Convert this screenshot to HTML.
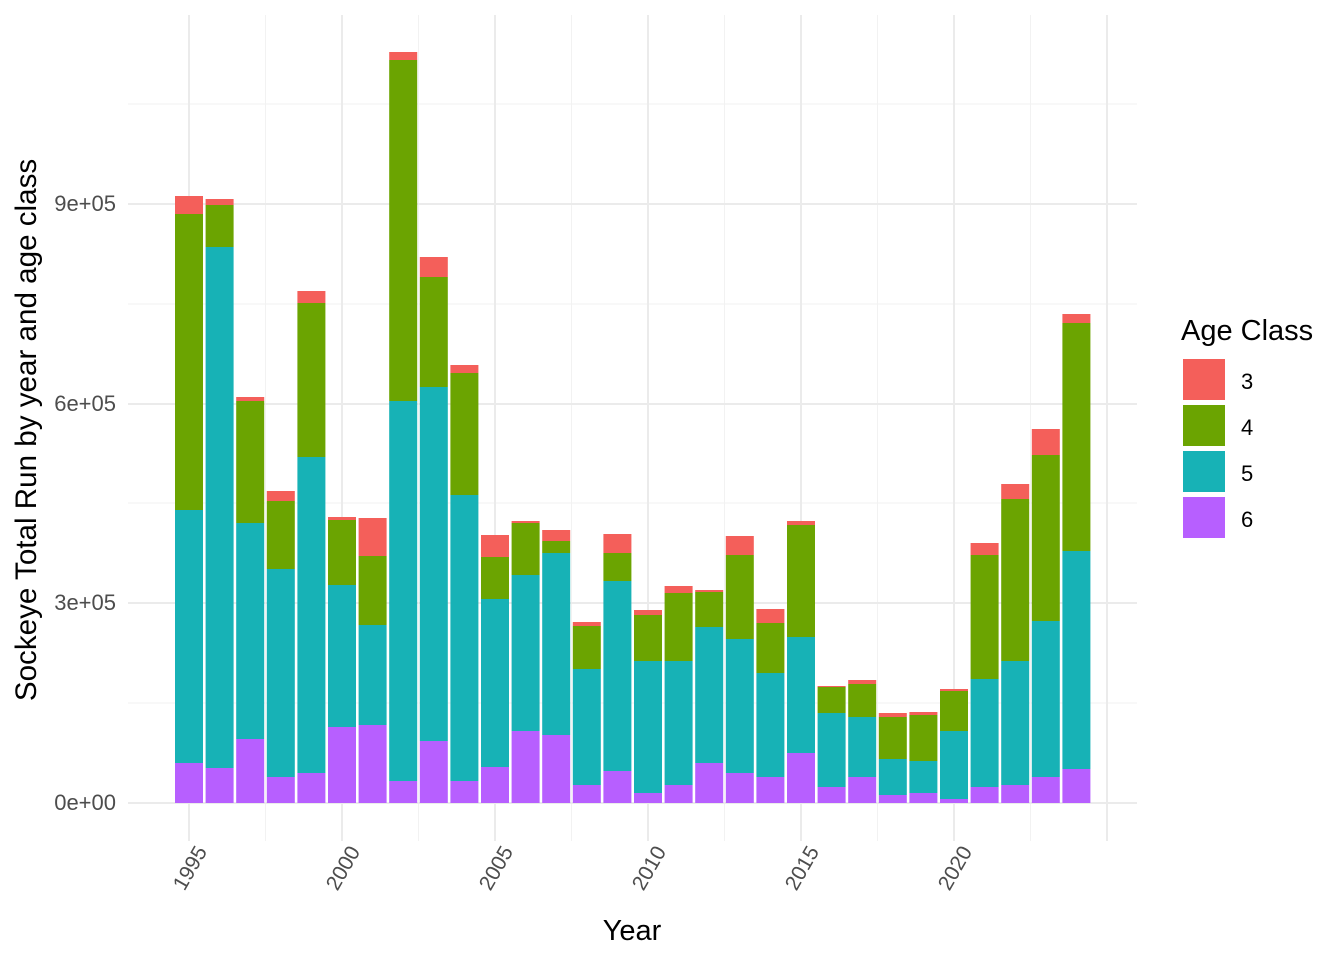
<!DOCTYPE html>
<html><head><meta charset="utf-8"><style>body{margin:0;background:#fff}svg{display:block;font-family:"Liberation Sans",Arial,sans-serif}</style></head><body>
<svg width="1344" height="960" viewBox="0 0 1344 960" xmlns="http://www.w3.org/2000/svg">
<g stroke="#f2f2f2" stroke-width="1">
<line x1="128" x2="1137" y1="703" y2="703"/><line x1="128" x2="1137" y1="503" y2="503"/><line x1="128" x2="1137" y1="304" y2="304"/><line x1="128" x2="1137" y1="104" y2="104"/>
<line x1="265.5" x2="265.5" y1="15" y2="841"/><line x1="418.5" x2="418.5" y1="15" y2="841"/><line x1="571.5" x2="571.5" y1="15" y2="841"/><line x1="724.5" x2="724.5" y1="15" y2="841"/><line x1="877.5" x2="877.5" y1="15" y2="841"/><line x1="1030.5" x2="1030.5" y1="15" y2="841"/>
</g>
<g stroke="#ebebeb" stroke-width="2">
<line x1="128" x2="1137" y1="803" y2="803"/><line x1="128" x2="1137" y1="603" y2="603"/><line x1="128" x2="1137" y1="404" y2="404"/><line x1="128" x2="1137" y1="204" y2="204"/>
<line x1="189" x2="189" y1="15" y2="841"/><line x1="342" x2="342" y1="15" y2="841"/><line x1="495" x2="495" y1="15" y2="841"/><line x1="648" x2="648" y1="15" y2="841"/><line x1="801" x2="801" y1="15" y2="841"/><line x1="954" x2="954" y1="15" y2="841"/><line x1="1107" x2="1107" y1="15" y2="841"/>
</g>
<g fill="#B75FFF">
<rect x="175" y="763" width="28" height="40"/><rect x="205.6" y="768" width="28" height="35"/><rect x="236.2" y="739" width="28" height="64"/><rect x="266.8" y="777" width="28" height="26"/><rect x="297.4" y="773" width="28" height="30"/><rect x="328" y="727" width="28" height="76"/><rect x="358.6" y="725" width="28" height="78"/><rect x="389.2" y="781" width="28" height="22"/><rect x="419.8" y="741" width="28" height="62"/><rect x="450.4" y="781" width="28" height="22"/><rect x="481" y="767" width="28" height="36"/><rect x="511.6" y="731" width="28" height="72"/><rect x="542.2" y="735" width="28" height="68"/><rect x="572.8" y="785" width="28" height="18"/><rect x="603.4" y="771" width="28" height="32"/><rect x="634" y="793" width="28" height="10"/><rect x="664.6" y="785" width="28" height="18"/><rect x="695.2" y="763" width="28" height="40"/><rect x="725.8" y="773" width="28" height="30"/><rect x="756.4" y="777" width="28" height="26"/><rect x="787" y="753" width="28" height="50"/><rect x="817.6" y="787" width="28" height="16"/><rect x="848.2" y="777" width="28" height="26"/><rect x="878.8" y="795" width="28" height="8"/><rect x="909.4" y="793" width="28" height="10"/><rect x="940" y="799" width="28" height="4"/><rect x="970.6" y="787" width="28" height="16"/><rect x="1001.2" y="785" width="28" height="18"/><rect x="1031.8" y="777" width="28" height="26"/><rect x="1062.4" y="769" width="28" height="34"/>
</g>
<g fill="#17B2B6">
<rect x="175" y="510" width="28" height="253"/><rect x="205.6" y="247" width="28" height="521"/><rect x="236.2" y="523" width="28" height="216"/><rect x="266.8" y="569" width="28" height="208"/><rect x="297.4" y="457" width="28" height="316"/><rect x="328" y="585" width="28" height="142"/><rect x="358.6" y="625" width="28" height="100"/><rect x="389.2" y="401" width="28" height="380"/><rect x="419.8" y="387" width="28" height="354"/><rect x="450.4" y="495" width="28" height="286"/><rect x="481" y="599" width="28" height="168"/><rect x="511.6" y="575" width="28" height="156"/><rect x="542.2" y="553" width="28" height="182"/><rect x="572.8" y="669" width="28" height="116"/><rect x="603.4" y="581" width="28" height="190"/><rect x="634" y="661" width="28" height="132"/><rect x="664.6" y="661" width="28" height="124"/><rect x="695.2" y="627" width="28" height="136"/><rect x="725.8" y="639" width="28" height="134"/><rect x="756.4" y="673" width="28" height="104"/><rect x="787" y="637" width="28" height="116"/><rect x="817.6" y="713" width="28" height="74"/><rect x="848.2" y="717" width="28" height="60"/><rect x="878.8" y="759" width="28" height="36"/><rect x="909.4" y="761" width="28" height="32"/><rect x="940" y="731" width="28" height="68"/><rect x="970.6" y="679" width="28" height="108"/><rect x="1001.2" y="661" width="28" height="124"/><rect x="1031.8" y="621" width="28" height="156"/><rect x="1062.4" y="551" width="28" height="218"/>
</g>
<g fill="#6BA401">
<rect x="175" y="214" width="28" height="296"/><rect x="205.6" y="205" width="28" height="42"/><rect x="236.2" y="401" width="28" height="122"/><rect x="266.8" y="501" width="28" height="68"/><rect x="297.4" y="303" width="28" height="154"/><rect x="328" y="520" width="28" height="65"/><rect x="358.6" y="556" width="28" height="69"/><rect x="389.2" y="60" width="28" height="341"/><rect x="419.8" y="277" width="28" height="110"/><rect x="450.4" y="373" width="28" height="122"/><rect x="481" y="557" width="28" height="42"/><rect x="511.6" y="523" width="28" height="52"/><rect x="542.2" y="541" width="28" height="12"/><rect x="572.8" y="626" width="28" height="43"/><rect x="603.4" y="553" width="28" height="28"/><rect x="634" y="615" width="28" height="46"/><rect x="664.6" y="593" width="28" height="68"/><rect x="695.2" y="592" width="28" height="35"/><rect x="725.8" y="555" width="28" height="84"/><rect x="756.4" y="623" width="28" height="50"/><rect x="787" y="525" width="28" height="112"/><rect x="817.6" y="687" width="28" height="26"/><rect x="848.2" y="684" width="28" height="33"/><rect x="878.8" y="717" width="28" height="42"/><rect x="909.4" y="715" width="28" height="46"/><rect x="940" y="691" width="28" height="40"/><rect x="970.6" y="555" width="28" height="124"/><rect x="1001.2" y="499" width="28" height="162"/><rect x="1031.8" y="455" width="28" height="166"/><rect x="1062.4" y="323" width="28" height="228"/>
</g>
<g fill="#F45F5A">
<rect x="175" y="196" width="28" height="18"/><rect x="205.6" y="199" width="28" height="6"/><rect x="236.2" y="397" width="28" height="4"/><rect x="266.8" y="491" width="28" height="10"/><rect x="297.4" y="291" width="28" height="12"/><rect x="328" y="517" width="28" height="3"/><rect x="358.6" y="518" width="28" height="38"/><rect x="389.2" y="52" width="28" height="8"/><rect x="419.8" y="257" width="28" height="20"/><rect x="450.4" y="365" width="28" height="8"/><rect x="481" y="535" width="28" height="22"/><rect x="511.6" y="521" width="28" height="2"/><rect x="542.2" y="530" width="28" height="11"/><rect x="572.8" y="622" width="28" height="4"/><rect x="603.4" y="534" width="28" height="19"/><rect x="634" y="610" width="28" height="5"/><rect x="664.6" y="586" width="28" height="7"/><rect x="695.2" y="590" width="28" height="2"/><rect x="725.8" y="536" width="28" height="19"/><rect x="756.4" y="609" width="28" height="14"/><rect x="787" y="521" width="28" height="4"/><rect x="817.6" y="686" width="28" height="1"/><rect x="848.2" y="680" width="28" height="4"/><rect x="878.8" y="713" width="28" height="4"/><rect x="909.4" y="712" width="28" height="3"/><rect x="940" y="689" width="28" height="2"/><rect x="970.6" y="543" width="28" height="12"/><rect x="1001.2" y="484" width="28" height="15"/><rect x="1031.8" y="429" width="28" height="26"/><rect x="1062.4" y="314" width="28" height="9"/>
</g>
<g font-size="22" fill="#4d4d4d" text-anchor="end">
<text x="116" y="810">0e+00</text><text x="116" y="610">3e+05</text><text x="116" y="411">6e+05</text><text x="116" y="211">9e+05</text>
</g>
<g font-size="21" fill="#4d4d4d" text-anchor="middle">
<text transform="translate(190,868) rotate(-60)" dy="7">1995</text>
<text transform="translate(343,868) rotate(-60)" dy="7">2000</text>
<text transform="translate(496,868) rotate(-60)" dy="7">2005</text>
<text transform="translate(649,868) rotate(-60)" dy="7">2010</text>
<text transform="translate(802,868) rotate(-60)" dy="7">2015</text>
<text transform="translate(955,868) rotate(-60)" dy="7">2020</text>
</g>
<text x="632" y="940" font-size="29" text-anchor="middle" fill="#000">Year</text>
<text transform="translate(36,430) rotate(-90)" font-size="29.6" text-anchor="middle" fill="#000">Sockeye Total Run by year and age class</text>
<text x="1181" y="340" font-size="29" fill="#000">Age Class</text>
<rect x="1183" y="359" width="42" height="41" fill="#F45F5A"/>
<rect x="1183" y="405" width="42" height="41" fill="#6BA401"/>
<rect x="1183" y="451" width="42" height="41" fill="#17B2B6"/>
<rect x="1183" y="497" width="42" height="41" fill="#B75FFF"/>
<g font-size="22" fill="#000"><text x="1241" y="389">3</text><text x="1241" y="435">4</text><text x="1241" y="481">5</text><text x="1241" y="527">6</text></g>
</svg>
</body></html>
